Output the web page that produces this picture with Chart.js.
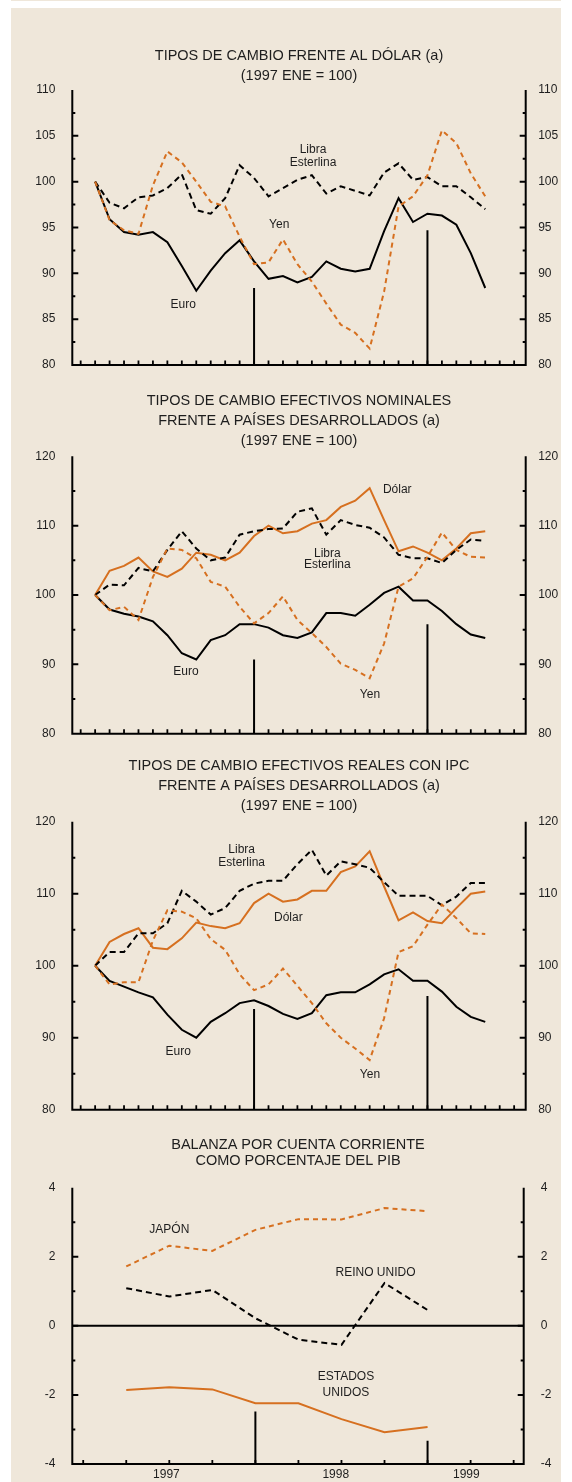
<!DOCTYPE html>
<html>
<head>
<meta charset="utf-8">
<script src="https://cdn.jsdelivr.net/npm/chart.js@4.4.1/dist/chart.umd.min.js"></script>
<style>
html,body{margin:0;padding:0;background:#ffffff;}
body{width:572px;height:1482px;position:relative;overflow:hidden;}
#strip{position:absolute;left:11px;top:0;width:550px;height:1px;background:#efe7da;}
#panel{position:absolute;left:11px;top:8px;width:550px;height:1474px;background:#efe7da;}
canvas{position:absolute;left:0;}
</style>
</head>
<body>
<div id="strip"></div>
<div id="panel"></div>
<canvas id="c1" width="572" height="377" style="top:8px"></canvas>
<canvas id="c2" width="572" height="365" style="top:385px"></canvas>
<canvas id="c3" width="572" height="375" style="top:750px"></canvas>
<canvas id="c4" width="572" height="357" style="top:1125px"></canvas>
<script>
// ---------------- DATA ----------------
// months since Dec 1996 (1 = Jan 1997 ... 28 = Apr 1999)
const months = [1,2,3,4,5,6,7,8,9,10,11,12,13,14,15,16,17,18,19,20,21,22,23,24,25,26,27,28];
const markerMonths = [12, 24];
const quarterMonths = [3,6,9,12,15,18,21,24];
const yearLabels = ['1997','1998','1999'];
const yearLabelMonths = [5.8, 17.6, 26.7];

// Chart 1: Tipos de cambio frente al dólar
const c1Euro  = [100,95.9,94.5,94.2,94.5,93.4,90.8,88.1,90.3,92.2,93.6,91.3,89.4,89.7,89.0,89.6,91.3,90.5,90.2,90.5,94.6,98.2,95.6,96.5,96.3,95.3,92.2,88.4];
const c1Yen   = [100,95.8,94.7,94.3,99.6,103.3,102.1,100.0,97.8,97.3,94.0,91.0,91.2,93.7,91.0,89.1,86.7,84.4,83.5,81.8,88.0,97.3,98.4,100.7,105.6,104.2,100.9,98.4];
const c1Libra = [100,97.7,97.1,98.3,98.5,99.3,100.8,96.9,96.5,98.2,101.8,100.4,98.4,99.3,100.2,100.7,98.7,99.5,99.0,98.5,101.0,102.0,100.2,100.5,99.5,99.5,98.3,97.0];
const c1MarkerTops = [88.4, 94.7];

// Chart 2: efectivos nominales
const c2Euro  = [100,97.9,97.3,96.9,96.2,94.2,91.6,90.7,93.5,94.2,95.8,95.8,95.3,94.2,93.8,94.6,97.4,97.4,97.0,98.6,100.3,101.2,99.2,99.2,97.7,95.8,94.3,93.8];
const c2Dolar = [100,103.5,104.2,105.4,103.4,102.6,103.8,106.1,105.8,105.0,106.1,108.5,110.0,108.9,109.2,110.3,110.8,112.7,113.6,115.4,110.8,106.3,107.0,106.1,105.0,106.7,108.9,109.2];
const c2Libra = [100,101.5,101.4,103.9,103.4,106.5,109.2,106.7,105.0,105.4,108.7,109.2,109.5,109.6,112.0,112.5,108.7,110.8,110.1,109.7,108.3,105.8,105.3,105.3,104.6,106.5,108.0,107.8];
const c2Yen   = [100,97.8,98.3,96.4,102.6,106.7,106.5,105.3,101.9,101.2,98.3,95.9,97.4,99.8,96.4,94.5,92.5,90.1,89.2,88.0,93.0,101.2,102.4,105.5,109.0,106.5,105.5,105.4];
const c2MarkerTops = [90.7, 95.8];

// Chart 3: efectivos reales con IPC
const c3Euro  = [100,97.9,97.1,96.3,95.6,93.2,91.1,90.0,92.2,93.4,94.8,95.2,94.4,93.3,92.6,93.4,95.9,96.3,96.3,97.4,98.8,99.5,97.9,97.9,96.4,94.3,92.9,92.2];
const c3Dolar = [100,103.3,104.4,105.2,102.5,102.3,103.8,106.0,105.5,105.2,105.9,108.7,110.0,108.9,109.2,110.4,110.4,113.0,113.8,115.9,111.0,106.3,107.4,106.2,105.9,108.0,110.0,110.3];
const c3Libra = [100,101.9,101.9,104.5,104.5,105.9,110.4,108.9,107.1,108.0,110.4,111.4,111.8,111.8,114.1,116.1,112.5,114.5,114.1,113.6,111.6,109.7,109.7,109.7,108.4,109.6,111.5,111.5];
const c3Yen   = [100,97.4,97.7,97.7,103.5,107.7,107.5,106.6,103.7,102.2,98.8,96.6,97.4,99.6,97.2,94.8,92.0,90.0,88.5,86.9,92.7,101.9,102.7,105.7,108.5,106.6,104.5,104.4];
const c3MarkerTops = [94.0, 95.8];

// Chart 4: balanza por cuenta corriente (% PIB), trimestral
const c4Japon = [1.72,2.32,2.17,2.78,3.09,3.08,3.41,3.32];
const c4Reino = [1.09,0.85,1.04,0.22,-0.40,-0.55,1.24,0.46];
const c4EEUU  = [-1.86,-1.78,-1.84,-2.24,-2.24,-2.70,-3.08,-2.93];
const c4MarkerTops = [-2.48, -3.33];

// ---------------- STYLE ----------------
const FONT = '"Liberation Sans", Arial, Helvetica, sans-serif';
const ORANGE = 'rgb(214,112,32)';
const BLACK = '#000000';
const TEXT = '#1e1e1e';
Chart.defaults.font.family = FONT;
Chart.defaults.color = TEXT;

function pts(xs, ys) { return xs.map((x, i) => ({x: x, y: ys[i]})); }

function lineDs(data, color, dash) {
  return {data: data, borderColor: color, borderWidth: 2, borderDash: dash || [],
          pointRadius: 0, tension: 0, fill: false, borderCapStyle: 'butt', borderJoinStyle: 'miter'};
}
function markerDs(ms, tops, base) {
  return ms.map((m, i) => ({data: [{x: m, y: base}, {x: m, y: tops[i]}], borderColor: BLACK,
          borderWidth: 2, pointRadius: 0, fill: false, borderCapStyle: 'butt'}));
}

const framePlugin = {
  id: 'frame',
  beforeDatasetsDraw(chart, args, o) {
    const ctx = chart.ctx, a = chart.chartArea, x = chart.scales.x, y = chart.scales.y;
    ctx.save();
    ctx.strokeStyle = BLACK;
    // y ticks (major from the scale, minor halfway)
    ctx.lineWidth = 2;
    ctx.beginPath();
    const tv = y.ticks.map(t => t.value);
    tv.forEach((v, i) => {
      const p = y.getPixelForValue(v);
      if (i > 0 && i < tv.length - 1) {
        ctx.moveTo(a.left, p); ctx.lineTo(a.left + 6, p);
        ctx.moveTo(a.right, p); ctx.lineTo(a.right - 6, p);
      }
      if (i < tv.length - 1) {
        const pm = y.getPixelForValue((v + tv[i + 1]) / 2);
        ctx.moveTo(a.left, pm); ctx.lineTo(a.left + 3, pm);
        ctx.moveTo(a.right, pm); ctx.lineTo(a.right - 3, pm);
      }
    });
    ctx.stroke();
    // x ticks
    ctx.lineWidth = 1.8;
    ctx.beginPath();
    for (let m = o.xTickStart; m <= o.xTickEnd; m += o.xTickStep) {
      const p = x.getPixelForValue(m);
      ctx.moveTo(p, a.bottom); ctx.lineTo(p, a.bottom - o.xTickLen);
    }
    ctx.stroke();
    // zero line
    if (o.zeroLine) {
      ctx.lineWidth = 2;
      ctx.beginPath();
      const p0 = y.getPixelForValue(0);
      ctx.moveTo(a.left, p0); ctx.lineTo(a.right, p0);
      ctx.stroke();
    }
    // frame
    ctx.lineWidth = 2;
    ctx.lineJoin = 'miter';
    ctx.beginPath();
    ctx.moveTo(a.left, a.top); ctx.lineTo(a.left, a.bottom); ctx.lineTo(a.right, a.bottom); ctx.lineTo(a.right, a.top);
    ctx.stroke();
    ctx.restore();
  }
};

const labelPlugin = {
  id: 'seriesLabels',
  afterDatasetsDraw(chart, args, o) {
    const ctx = chart.ctx, x = chart.scales.x, y = chart.scales.y;
    ctx.save();
    ctx.fillStyle = TEXT;
    ctx.font = '12px ' + FONT;
    ctx.textAlign = 'center';
    ctx.textBaseline = 'middle';
    (o.items || []).forEach(it => {
      const px = x.getPixelForValue(it.x), py = y.getPixelForValue(it.y);
      const lh = it.lh || 13, n = it.lines.length;
      it.lines.forEach((t, i) => ctx.fillText(t, px, py + (i - (n - 1) / 2) * lh));
    });
    ctx.restore();
  }
};

function fixV(w) {
  return (sc) => { sc.width = w; sc.paddingTop = 0; sc.paddingBottom = 0; };
}

function build(id, s) {
  const yTicks = {stepSize: s.yStep, font: {size: 12}, color: TEXT};
  const xScale = {
    type: 'linear', min: s.xMin, max: s.xMax,
    grid: {display: false, drawTicks: false}, border: {display: false},
    ticks: {display: !!s.xLabels, padding: 3, font: {size: 12}, color: TEXT,
            callback: (v) => { if (!s.xLabels) return ''; const i = yearLabelMonths.indexOf(v); return i >= 0 ? yearLabels[i] : ''; }},
    afterBuildTicks: (sc) => { if (s.xLabels) sc.ticks = yearLabelMonths.map(v => ({value: v})); },
    afterFit: (sc) => { sc.height = s.xH; sc.paddingLeft = 0; sc.paddingRight = 0; }
  };
  return new Chart(document.getElementById(id), {
    type: 'line',
    data: {datasets: s.datasets},
    options: {
      responsive: false, maintainAspectRatio: false, animation: false, devicePixelRatio: 1,
      layout: {padding: 0},
      plugins: {
        legend: {display: false}, tooltip: {enabled: false},
        title: {display: true, text: s.title, fullSize: false, color: TEXT,
                font: {size: 14.5, weight: 'normal', lineHeight: s.titleLH + 'px'},
                padding: {top: s.titlePadTop, bottom: s.titlePadBottom}},
        frame: {xTickStart: s.xTickStart, xTickEnd: 30, xTickStep: s.xTickStep, xTickLen: s.xTickLen, zeroLine: !!s.zeroLine},
        seriesLabels: {items: s.labels}
      },
      scales: {
        x: xScale,
        y: {position: 'left', min: s.yMin, max: s.yMax, ticks: Object.assign({padding: s.padL}, yTicks),
            grid: {display: false, drawTicks: false}, border: {display: false},
            afterFit: fixV(s.wL)},
        y2: {position: 'right', min: s.yMin, max: s.yMax, ticks: Object.assign({padding: s.padR}, yTicks),
             grid: {display: false, drawTicks: false}, border: {display: false},
             afterFit: fixV(s.wR)}
      }
    },
    plugins: [framePlugin, labelPlugin]
  });
}

// Chart 1
build('c1', {
  title: ['TIPOS DE CAMBIO FRENTE AL DÓLAR (a)', '(1997 ENE = 100)'],
  titleLH: 19.5, titlePadTop: 38.25, titlePadBottom: 4.75,
  yMin: 80, yMax: 110, yStep: 5, xMin: -0.58, xMax: 30.8,
  wL: 72.3, wR: 46.3, padL: 17, padR: 12.5, xH: 20,
  xTickStart: 0, xTickStep: 1, xTickLen: 4.5,
  datasets: [
    ...markerDs(markerMonths, c1MarkerTops, 80),
    lineDs(pts(months, c1Yen), ORANGE, [5, 4]),
    lineDs(pts(months, c1Libra), BLACK, [6, 4]),
    lineDs(pts(months, c1Euro), BLACK)
  ],
  labels: [
    {x: 16.08, y: 102.75, lines: ['Libra', 'Esterlina'], lh: 13},
    {x: 13.74, y: 95.28, lines: ['Yen']},
    {x: 7.1, y: 86.55, lines: ['Euro']}
  ]
});

// Chart 2
build('c2', {
  title: ['TIPOS DE CAMBIO EFECTIVOS NOMINALES', 'FRENTE A PAÍSES DESARROLLADOS (a)', '(1997 ENE = 100)'],
  titleLH: 20, titlePadTop: 6.25, titlePadBottom: 5.05,
  yMin: 80, yMax: 120, yStep: 10, xMin: -0.58, xMax: 30.8,
  wL: 72.3, wR: 46.3, padL: 17, padR: 12.5, xH: 16.3,
  xTickStart: 0, xTickStep: 1, xTickLen: 4.5,
  datasets: [
    ...markerDs(markerMonths, c2MarkerTops, 80),
    lineDs(pts(months, c2Yen), ORANGE, [5, 4]),
    lineDs(pts(months, c2Libra), BLACK, [6, 4]),
    lineDs(pts(months, c2Dolar), ORANGE),
    lineDs(pts(months, c2Euro), BLACK)
  ],
  labels: [
    {x: 21.91, y: 115.25, lines: ['Dólar']},
    {x: 17.07, y: 105.17, lines: ['Libra', 'Esterlina'], lh: 11.5},
    {x: 7.29, y: 88.93, lines: ['Euro']},
    {x: 20.02, y: 85.57, lines: ['Yen']}
  ]
});

// Chart 3
build('c3', {
  title: ['TIPOS DE CAMBIO EFECTIVOS REALES CON IPC', 'FRENTE A PAÍSES DESARROLLADOS (a)', '(1997 ENE = 100)'],
  titleLH: 20, titlePadTop: 5.8, titlePadBottom: 5.9,
  yMin: 80, yMax: 120, yStep: 10, xMin: -0.58, xMax: 30.8,
  wL: 72.3, wR: 46.3, padL: 17, padR: 12.5, xH: 15.3,
  xTickStart: 0, xTickStep: 1, xTickLen: 4.5,
  datasets: [
    ...markerDs(markerMonths, c3MarkerTops, 80),
    lineDs(pts(months, c3Yen), ORANGE, [5, 4]),
    lineDs(pts(months, c3Libra), BLACK, [6, 4]),
    lineDs(pts(months, c3Dolar), ORANGE),
    lineDs(pts(months, c3Euro), BLACK)
  ],
  labels: [
    {x: 11.14, y: 115.24, lines: ['Libra', 'Esterlina'], lh: 13.3},
    {x: 14.37, y: 106.67, lines: ['Dólar']},
    {x: 6.75, y: 88.06, lines: ['Euro']},
    {x: 20.02, y: 84.82, lines: ['Yen']}
  ]
});

// Chart 4
build('c4', {
  title: ['BALANZA POR CUENTA CORRIENTE', 'COMO PORCENTAJE DEL PIB'],
  titleLH: 16.5, titlePadTop: 11.25, titlePadBottom: 18.45,
  yMin: -4, yMax: 4, yStep: 2, xMin: -0.76, xMax: 30.7,
  wL: 72.3, wR: 48.3, padL: 17, padR: 17, xH: 18,
  xTickStart: 0, xTickStep: 3, xTickLen: 4, zeroLine: true, xLabels: true,
  datasets: [
    ...markerDs(markerMonths, c4MarkerTops, -4),
    lineDs(pts(quarterMonths, c4Japon), ORANGE, [5, 4]),
    lineDs(pts(quarterMonths, c4Reino), BLACK, [6, 4]),
    lineDs(pts(quarterMonths, c4EEUU), ORANGE)
  ],
  labels: [
    {x: 6.0, y: 2.78, lines: ['JAPÓN']},
    {x: 20.37, y: 1.53, lines: ['REINO UNIDO']},
    {x: 18.31, y: -1.715, lines: ['ESTADOS', 'UNIDOS'], lh: 16}
  ]
});
</script>
</body>
</html>
